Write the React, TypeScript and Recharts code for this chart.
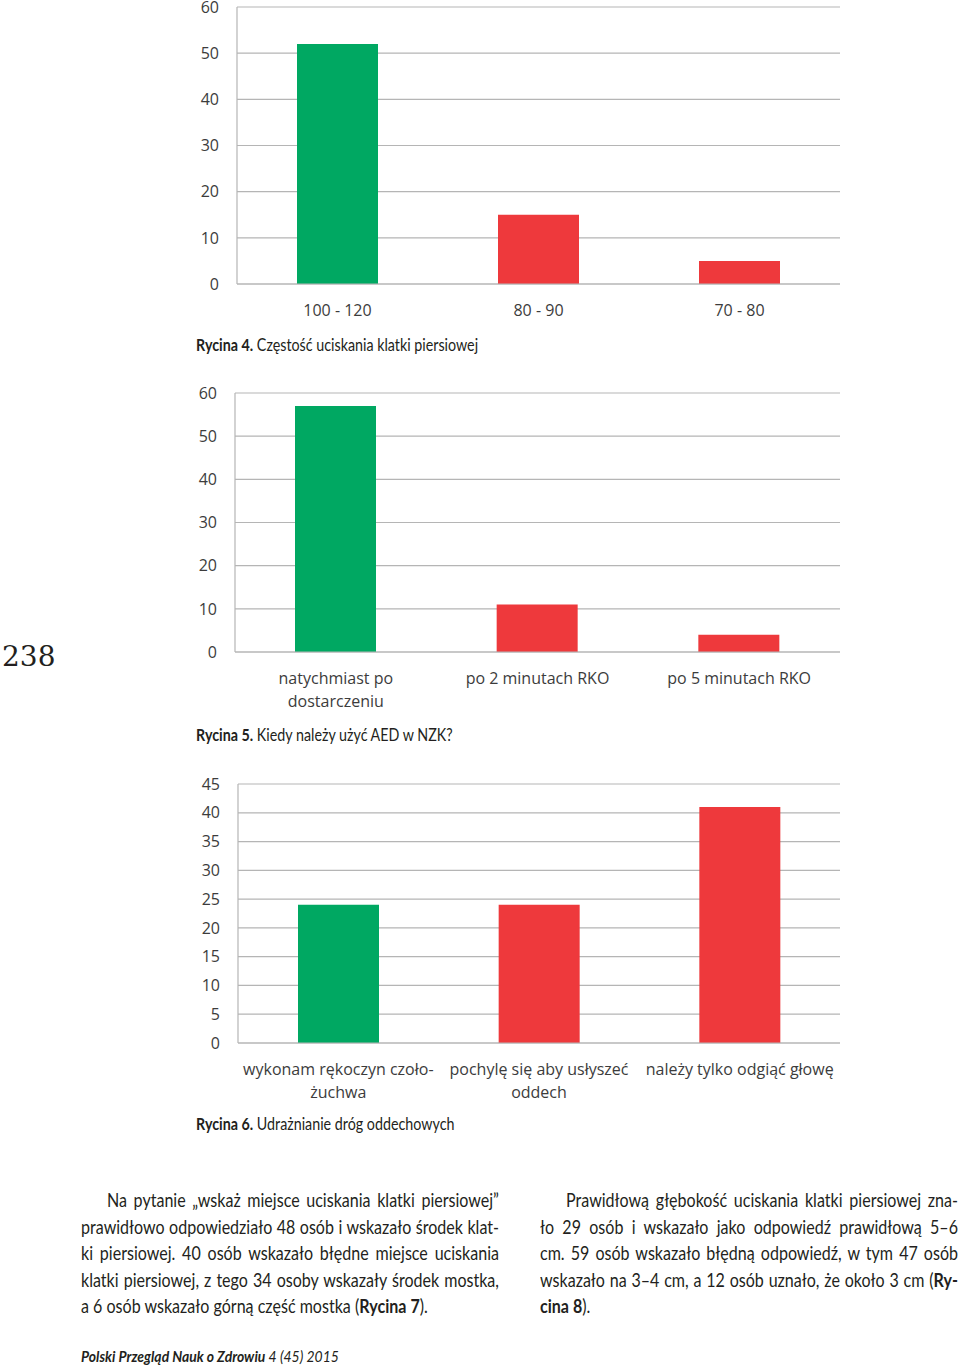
import React from 'react';
import { BarChart, Bar, XAxis, YAxis, CartesianGrid, Cell } from 'recharts';

// Rycina 4
const fig4Categories = ['100 - 120', '80 - 90', '70 - 80'];
const fig4Values = [52, 15, 5];
const fig4Ticks = [0, 10, 20, 30, 40, 50, 60];

// Rycina 5
const fig5Categories = ['natychmiast po\ndostarczeniu', 'po 2 minutach RKO', 'po 5 minutach RKO'];
const fig5Values = [57, 11, 4];
const fig5Ticks = [0, 10, 20, 30, 40, 50, 60];

// Rycina 6
const fig6Categories = ['wykonam rękoczyn czoło-\nżuchwa', 'pochylę się aby usłyszeć\noddech', 'należy tylko odgiąć głowę'];
const fig6Values = [24, 24, 41];
const fig6Ticks = [0, 5, 10, 15, 20, 25, 30, 35, 40, 45];

const GREEN = '#00a862';
const RED = '#ee393c';
const GRID = '#b5b5b5';
const LABEL = '#3c3c3c';
const INK = '#231f20';
const CHART_FONT = "'Open Sans', 'Noto Sans', sans-serif";
const TEXT_FONT = "Lato, 'Liberation Sans', sans-serif";

const CategoryTick = (props: any) => {
  const { x, y, payload } = props;
  const lines = String(payload.value).split('\n');
  return (
    <text x={x} y={y + 30} textAnchor="middle" fill={LABEL} fontSize={16} fontFamily={CHART_FONT}>
      {lines.map((l, i) => (
        <tspan key={i} x={x} dy={i === 0 ? 0 : 23}>{l}</tspan>
      ))}
    </text>
  );
};

interface FigProps {
  categories: string[];
  values: number[];
  ticks: number[];
  top: number;     // y of max tick
  bottom: number;  // y of zero
  left: number;    // x of value axis
  right: number;
}

const Figure: React.FC<FigProps> = ({ categories, values, ticks, top, bottom, left, right }) => {
  const data = categories.map((name, i) => ({ name, value: values[i] }));
  const padTop = 12;
  const axisH = 60;
  const yW = 60;
  const chartLeft = left - yW;
  return (
    <div style={{ position: 'absolute', left: chartLeft, top: top - padTop }}>
      <BarChart
        width={right - chartLeft}
        height={bottom - top + padTop + axisH}
        data={data}
        margin={{ top: padTop, right: 0, bottom: 0, left: 0 }}
      >
        <CartesianGrid vertical={false} stroke={GRID} strokeWidth={1.2} />
        <XAxis
          dataKey="name"
          height={axisH}
          tickLine={false}
          tickSize={0}
          axisLine={{ stroke: GRID, strokeWidth: 1.2 }}
          tick={<CategoryTick />}
          interval={0}
        />
        <YAxis
          width={yW}
          domain={[0, ticks[ticks.length - 1]]}
          ticks={ticks}
          tickLine={false}
          tickSize={0}
          tickMargin={18}
          axisLine={{ stroke: GRID, strokeWidth: 1.2 }}
          tick={{ fill: LABEL, fontSize: 16, fontFamily: CHART_FONT }}
        />
        <Bar dataKey="value" barSize={81} isAnimationActive={false}>
          {data.map((d, i) => (
            <Cell key={i} fill={i === 0 ? GREEN : RED} />
          ))}
        </Bar>
      </BarChart>
    </div>
  );
};

// condensed look: regular face squeezed horizontally
const Narrow = ({ left, top, scale, size, children, style }: any) => (
  <div
    style={{
      position: 'absolute',
      left,
      top,
      transform: `scaleX(${scale})`,
      transformOrigin: 'left top',
      fontFamily: TEXT_FONT,
      fontSize: size,
      color: INK,
      whiteSpace: 'nowrap',
      ...style,
    }}
  >
    {children}
  </div>
);

const Caption = ({ top, num, text }: { top: number; num: string; text: string }) => (
  <Narrow left={196} top={top} scale={0.84} size={17}>
    <b>Rycina {num}.</b> {text}
  </Narrow>
);

const leftLines: React.ReactNode[] = [
  'Na pytanie „wskaż miejsce uciskania klatki piersiowej”',
  'prawidłowo odpowiedziało 48 osób i wskazało środek klat-',
  'ki piersiowej. 40 osób wskazało błędne miejsce uciskania',
  'klatki piersiowej, z tego 34 osoby wskazały środek mostka,',
  <span>a 6 osób wskazało górną część mostka (<b>Rycina 7</b>).</span>,
];
const rightLines: React.ReactNode[] = [
  'Prawidłową głębokość uciskania klatki piersiowej zna-',
  'ło 29 osób i wskazało jako odpowiedź prawidłową 5–6',
  'cm. 59 osób wskazało błędną odpowiedź, w tym 47 osób',
  <span>wskazało na 3–4 cm, a 12 osób uznało, że około 3 cm (<b>Ry-</b></span>,
  <span><b>cina 8</b>).</span>,
];

const COL_SCALE = 0.845;
const Column = ({ left, lines }: { left: number; lines: React.ReactNode[] }) => (
  <Narrow left={left} top={1187} scale={COL_SCALE} size={19} style={{ width: 418 / COL_SCALE, lineHeight: '26.5px', whiteSpace: 'normal' }}>
    {lines.map((l, i) => (
      <div
        key={i}
        style={{
          textAlign: 'justify',
          textAlignLast: i === lines.length - 1 ? 'left' : 'justify',
          paddingLeft: i === 0 ? 26 / COL_SCALE : 0,
          whiteSpace: 'nowrap',
        }}
      >
        {l}
      </div>
    ))}
  </Narrow>
);

export default function App() {
  return (
    <div style={{ position: 'absolute', left: 0, top: 0, width: 960, height: 1368, background: '#fff', overflow: 'hidden' }}>
      <Figure categories={fig4Categories} values={fig4Values} ticks={fig4Ticks} top={7} bottom={284} left={237} right={840} />
      <Caption top={334} num="4" text="Częstość uciskania klatki piersiowej" />

      <Figure categories={fig5Categories} values={fig5Values} ticks={fig5Ticks} top={393} bottom={652} left={235} right={840} />
      <Caption top={724} num="5" text="Kiedy należy użyć AED w NZK?" />

      <Figure categories={fig6Categories} values={fig6Values} ticks={fig6Ticks} top={784} bottom={1043} left={238} right={840} />
      <Caption top={1113} num="6" text="Udrażnianie dróg oddechowych" />

      <div style={{ position: 'absolute', left: 2, top: 640, fontFamily: "'DejaVu Serif', serif", fontSize: 28, color: INK }}>238</div>

      <Column left={81} lines={leftLines} />
      <Column left={540} lines={rightLines} />

      <Narrow left={81} top={1346} scale={0.87} size={16} style={{ fontStyle: 'italic' }}>
        <b>Polski Przegląd Nauk o Zdrowiu</b> 4 (45) 2015
      </Narrow>
    </div>
  );
}
